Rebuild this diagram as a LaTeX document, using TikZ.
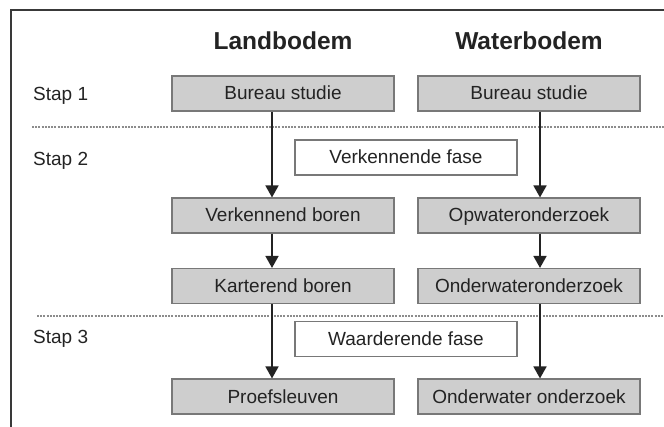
\documentclass[tikz,border=0pt]{standalone}
\usepackage{fontspec}
\setmainfont{Liberation Sans}
\usepackage{xcolor}
\usepackage{tikz}
\usetikzlibrary{arrows.meta}

\definecolor{boxgray}{RGB}{206,206,206}
\definecolor{edgegray}{RGB}{120,120,120}
\definecolor{inkgray}{RGB}{35,35,35}
\definecolor{grensgray}{RGB}{140,140,140}

\tikzset{
	stapbox/.style={draw=edgegray, line width=1.1pt, fill=boxgray, minimum width=222pt, minimum height=35pt, inner sep=0pt, text height=13pt, text depth=0pt, font=\fontsize{19}{22}\selectfont, text=inkgray},
	fasebox/.style={stapbox, fill=white},
	stapnaam/.style={anchor=base west, inner sep=0pt, font=\fontsize{19}{22}\selectfont, text=inkgray},
	kop/.style={anchor=base, inner sep=0pt, font=\fontsize{24.5}{28}\selectfont\bfseries, text=inkgray},
	pijl/.style={line width=1.7pt, draw=inkgray, -{Triangle[width=13pt,length=12pt]}},
	grens/.style={draw=grensgray, line width=1.2pt, dash pattern=on 2pt off 1.2pt}
}

\begin{document}
\begin{tikzpicture}[x=1pt,y=-1pt]
				\useasboundingbox (0,0) rectangle (664,427);
				
				% frame
				\draw [line width=1.8pt, draw=inkgray!90] (11,427) -- (11,10) -- (664,10);
				
				% step borders
				\draw [grens] (32,127) -- (664,127);
				\draw [grens] (37,316) -- (664,316);
				
				\node [kop] (land) at (283,50) {Landbodem};
				\node [kop] (water) at (529,50) {Waterbodem};
				
				\node [stapnaam] (stap1) at (33,101) {Stap 1};
				\node [stapnaam] (stap2) at (33,166) {Stap 2};
				\node [stapnaam] (stap3) at (33,344) {Stap 3};
				
				% % % % % % % % % % % % % % % % % % % % % % % % % %
				
				\node [stapbox] (lb1) at (283,93.5) {Bureau studie};
				\node [stapbox] (lb2) at (283,215.5) {Verkennend boren};
				\node [stapbox] (lb3) at (283,286) {Karterend boren};
				\node [stapbox] (lb4) at (283,396.5) {Proefsleuven};
				
				\node [stapbox] (wb1) at (529,93.5) {Bureau studie};
				\node [stapbox] (wb2) at (529,215.5) {Opwateronderzoek};
				\node [stapbox] (wb3) at (529,286) {Onderwateronderzoek};
				\node [stapbox] (wb4) at (529,396.5) {Onderwater onderzoek};
				
				\node [fasebox] (verk) at (406,157.5) {Verkennende fase};
				\node [fasebox] (waard) at (406,339) {Waarderende fase};
				
				% % % % % % % % % % % % % % % % % % % % % % % % % %
				
				\draw [pijl] ([xshift=-11pt]lb1.south) -- ([xshift=-11pt]lb2.north);
				\draw [pijl] ([xshift=-11pt]lb2.south) -- ([xshift=-11pt]lb3.north);
				\draw [pijl] ([xshift=-11pt]lb3.south) -- ([xshift=-11pt]lb4.north);
				
				\draw [pijl] ([xshift=11pt]wb1.south) -- ([xshift=11pt]wb2.north);
				\draw [pijl] ([xshift=11pt]wb2.south) -- ([xshift=11pt]wb3.north);
				\draw [pijl] ([xshift=11pt]wb3.south) -- ([xshift=11pt]wb4.north);
\end{tikzpicture}
\end{document}
